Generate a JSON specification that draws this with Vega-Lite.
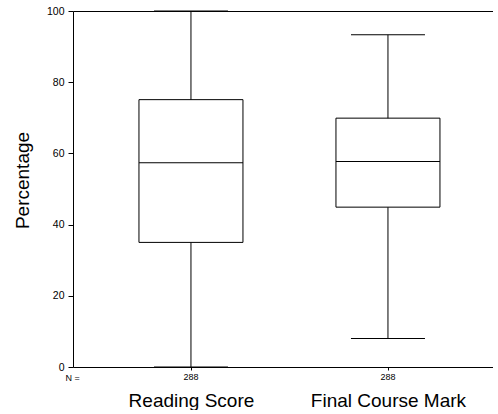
{
  "$schema": "https://vega.github.io/schema/vega-lite/v6.json",
  "width": 420,
  "height": 356,
  "padding": {"left": 13, "top": 6, "right": 0, "bottom": 0},
  "background": "white",
  "usermeta": {"embedOptions": {"actions": false}},
  "config": {
    "font": "Liberation Sans",
    "view": {"stroke": null},
    "axis": {"grid": false, "domainColor": "black", "domainWidth": 1, "tickColor": "black", "labelColor": "black", "titleColor": "black", "titleFontWeight": "normal"}
  },
  "resolve": {"axis": {"x": "independent"}},
  "data": {
    "values": [
      {"variable": "Reading Score", "min": 0, "q1": 35, "median": 57.4, "q3": 75.1, "max": 100, "n": 288},
      {"variable": "Final Course Mark", "min": 8, "q1": 44.9, "median": 57.7, "q3": 69.9, "max": 93.3, "n": 288}
    ]
  },
  "layer": [
    {
      "mark": {"type": "rule", "color": "black", "strokeWidth": 1},
      "encoding": {
        "x": {
          "field": "variable",
          "type": "nominal",
          "sort": null,
          "scale": {"type": "point", "padding": 0.566, "align": 0.529},
          "axis": {
            "orient": "bottom",
            "title": "N =",
            "titleFontSize": 9,
            "titleColor": "#000000",
            "titleAnchor": "start",
            "titleAlign": "left",
            "titleBaseline": "alphabetic",
            "titleX": -8,
            "titleY": 13,
            "labelAngle": 0,
            "labelFontSize": 19,
            "labelBaseline": "alphabetic",
            "labelPadding": 36,
            "tickSize": 3
          }
        },
        "y": {
          "field": "min",
          "type": "quantitative",
          "scale": {"domain": [0, 100], "nice": false},
          "axis": {
            "title": "Percentage",
            "titleFontSize": 19,
            "titleAngle": -90,
            "titleAlign": "center",
            "titleBaseline": "alphabetic",
            "titleX": -45,
            "titleY": 169,
            "values": [0, 20, 40, 60, 80, 100],
            "labelFontSize": 10.5,
            "labelPadding": 4,
            "tickSize": 5
          }
        },
        "y2": {"field": "max"}
      }
    },
    {
      "mark": {"type": "bar", "width": 104, "fill": "white", "stroke": "black", "strokeWidth": 1},
      "encoding": {
        "x": {"field": "variable", "type": "nominal", "sort": null, "axis": null},
        "y": {"field": "q1", "type": "quantitative"},
        "y2": {"field": "q3"}
      }
    },
    {
      "mark": {"type": "tick", "size": 104, "thickness": 1, "color": "black", "opacity": 1},
      "encoding": {
        "x": {"field": "variable", "type": "nominal", "sort": null, "axis": null},
        "y": {"field": "median", "type": "quantitative"}
      }
    },
    {
      "transform": [{"fold": ["min", "max"], "as": ["stat", "cap"]}],
      "mark": {"type": "tick", "size": 74, "thickness": 1, "color": "black", "opacity": 1},
      "encoding": {
        "x": {"field": "variable", "type": "nominal", "sort": null, "axis": null},
        "y": {"field": "cap", "type": "quantitative"}
      }
    },
    {
      "mark": {"type": "text", "fontSize": 9, "baseline": "alphabetic", "dy": 13, "color": "black"},
      "encoding": {
        "x": {
          "field": "variable",
          "type": "nominal",
          "sort": null,
          "axis": {"orient": "top", "title": null, "labels": false, "ticks": false, "domain": true}
        },
        "y": {"datum": 0, "type": "quantitative"},
        "text": {"field": "n", "type": "quantitative"}
      }
    }
  ]
}
